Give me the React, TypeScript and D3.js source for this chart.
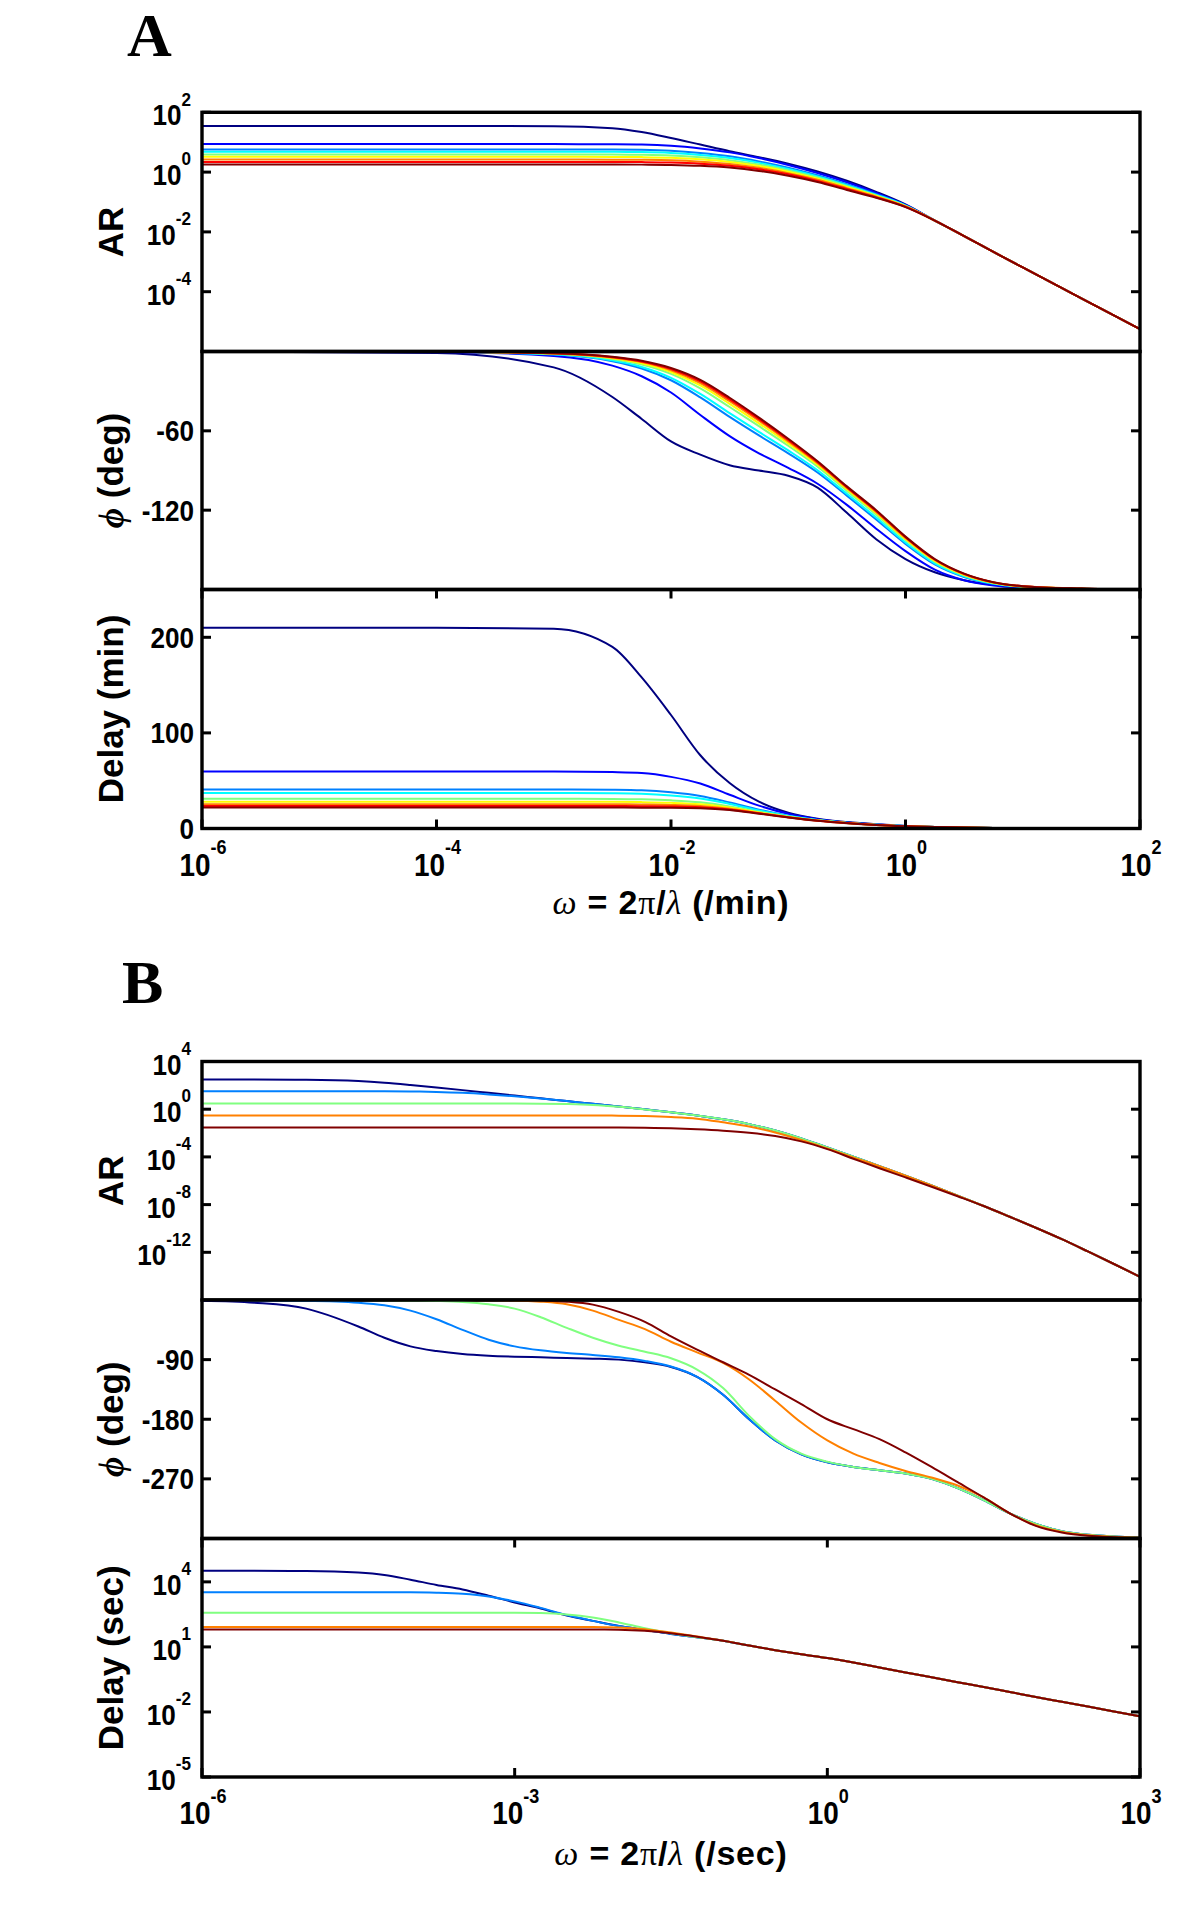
import React from "react";
import * as d3 from "d3";

// ================= DATA =================
// Panel A : frequency grid, exponent of omega (/min)
const A_OMEGA_EXP = [-6, -4, -3, -2.5, -2.25, -2, -1.75, -1.5, -1.25, -1, -0.75, -0.5, -0.25, 0, 0.25, 0.5, 0.75, 1, 1.5, 2];

// log10(AR), one row per curve (navy ... dark red)
const A_AR_LOG = [
  [1.54, 1.54, 1.535, 1.47, 1.34, 1.14, 0.92, 0.7, 0.5, 0.28, 0.02, -0.29, -0.66, -1.08, -1.62, -2.14, -2.67, -3.19, -4.22, -5.25],
  [0.936, 0.936, 0.936, 0.93, 0.92, 0.88, 0.79, 0.66, 0.47, 0.24, -0.03, -0.34, -0.7, -1.1, -1.62, -2.14, -2.67, -3.19, -4.22, -5.25],
  [0.758, 0.758, 0.758, 0.755, 0.746, 0.714, 0.639, 0.527, 0.358, 0.146, -0.108, -0.405, -0.74, -1.11, -1.62, -2.14, -2.67, -3.19, -4.22, -5.25],
  [0.68, 0.68, 0.68, 0.677, 0.669, 0.64, 0.573, 0.469, 0.309, 0.105, -0.143, -0.435, -0.76, -1.12, -1.62, -2.14, -2.67, -3.19, -4.22, -5.25],
  [0.59, 0.59, 0.59, 0.586, 0.578, 0.554, 0.494, 0.4, 0.251, 0.056, -0.183, -0.47, -0.78, -1.13, -1.62, -2.14, -2.67, -3.19, -4.22, -5.25],
  [0.51, 0.51, 0.51, 0.508, 0.501, 0.48, 0.428, 0.341, 0.201, 0.015, -0.218, -0.5, -0.8, -1.14, -1.62, -2.14, -2.67, -3.19, -4.22, -5.25],
  [0.42, 0.42, 0.42, 0.417, 0.411, 0.394, 0.349, 0.272, 0.143, -0.034, -0.258, -0.535, -0.82, -1.15, -1.62, -2.14, -2.67, -3.19, -4.22, -5.25],
  [0.34, 0.34, 0.34, 0.339, 0.334, 0.32, 0.283, 0.214, 0.094, -0.075, -0.293, -0.566, -0.84, -1.16, -1.62, -2.14, -2.67, -3.19, -4.22, -5.25],
  [0.255, 0.255, 0.255, 0.255, 0.25, 0.24, 0.21, 0.15, 0.04, -0.12, -0.33, -0.6, -0.86, -1.17, -1.62, -2.14, -2.67, -3.19, -4.22, -5.25],
];

// phase (deg)
const A_PHASE = [
  [0, -1.2, -12, -34.4, -51, -68, -78, -86, -90, -94, -103, -122, -142, -157, -167, -173, -176.5, -178.3, -179.5, -180],
  [0, -0.34, -3.4, -10.7, -18.7, -31, -48, -64, -77, -88, -100, -116, -134, -151, -165, -173, -177, -178.7, -179.7, -180],
  [0, -0.24, -2.33, -7.35, -12.85, -21.75, -34.75, -49.5, -63.5, -77, -91.5, -109, -127, -145.5, -161, -170.5, -175.75, -178.1, -179.5, -180],
  [0, -0.21, -2.12, -6.68, -11.7, -19.9, -32.1, -46.6, -60.8, -74.8, -89.8, -107.6, -125.6, -144.4, -160.2, -170, -175.5, -178, -179.5, -180],
  [0, -0.18, -1.77, -5.6, -9.8, -16.9, -27.9, -42, -56.5, -71.3, -87.1, -105.4, -123.4, -142.6, -158.9, -169.2, -175.1, -177.8, -179.4, -180],
  [0, -0.16, -1.6, -5.07, -8.9, -15.5, -25.7, -39.6, -54.3, -69.5, -85.7, -104.2, -122.2, -141.8, -158.3, -168.8, -174.9, -177.7, -179.4, -180],
  [0, -0.15, -1.45, -4.6, -8.05, -14.2, -23.9, -37.6, -52.4, -68, -84.5, -103.3, -121.3, -141, -157.7, -168.5, -174.7, -177.6, -179.3, -180],
  [0, -0.14, -1.35, -4.27, -7.5, -13.2, -22.6, -36.2, -51.1, -66.9, -83.7, -102.6, -120.6, -140.4, -157.3, -168.2, -174.6, -177.5, -179.3, -180],
  [0, -0.13, -1.26, -4, -7, -12.5, -21.5, -35, -50, -66, -83, -102, -120, -140, -157, -168, -174.5, -177.5, -179.3, -180],
];

// delay (min)
const A_DELAY = [
  [210, 210, 209, 190, 158, 118.7, 76.6, 47.5, 28, 16.4, 10.1, 6.7, 4.4, 2.74, 1.64, 0.95, 0.55, 0.31, 0.1, 0.03],
  [59.7, 59.7, 59.7, 59, 58, 54, 47, 35.3, 23.9, 15.4, 9.8, 6.4, 4.16, 2.64, 1.62, 0.95, 0.55, 0.31, 0.1, 0.03],
  [40.85, 40.85, 40.85, 40.5, 39.9, 37.85, 34.1, 27.3, 19.7, 13.45, 8.95, 6.0, 3.93, 2.54, 1.59, 0.94, 0.55, 0.31, 0.1, 0.03],
  [37.1, 37.1, 37.1, 36.8, 36.3, 34.6, 31.5, 25.7, 18.9, 13.1, 8.8, 5.9, 3.88, 2.52, 1.58, 0.94, 0.55, 0.31, 0.1, 0.03],
  [31.05, 31.05, 31.05, 30.88, 30.49, 29.45, 27.4, 23.14, 17.52, 12.44, 8.51, 5.79, 3.81, 2.49, 1.57, 0.93, 0.55, 0.31, 0.1, 0.03],
  [28.03, 28.03, 28.03, 27.92, 27.59, 26.87, 25.33, 21.86, 16.84, 12.12, 8.37, 5.73, 3.77, 2.47, 1.56, 0.93, 0.54, 0.31, 0.1, 0.03],
  [25.39, 25.39, 25.39, 25.33, 25.06, 24.61, 23.52, 20.74, 16.26, 11.85, 8.25, 5.67, 3.74, 2.46, 1.56, 0.93, 0.54, 0.31, 0.1, 0.03],
  [23.51, 23.51, 23.51, 23.48, 23.25, 22.99, 22.23, 19.94, 15.84, 11.66, 8.17, 5.63, 3.72, 2.45, 1.55, 0.93, 0.54, 0.31, 0.1, 0.03],
  [22, 22, 22, 22, 21.8, 21.7, 21.2, 19.3, 15.5, 11.5, 8.1, 5.6, 3.7, 2.44, 1.55, 0.93, 0.54, 0.31, 0.1, 0.03],
];

// Panel B : frequency grid, exponent of omega (/sec)
const B_OMEGA_EXP = [-6, -5.5, -5, -4.5, -4.25, -4, -3.75, -3.5, -3.25, -3, -2.75, -2.5, -2.25, -2, -1.75, -1.5, -1.25, -1, -0.75, -0.5, -0.25, 0, 0.25, 0.5, 0.75, 1, 1.25, 1.5, 1.75, 2, 2.25, 2.5, 2.75, 3];

const B_AR_LOG = [
  [2.49, 2.49, 2.47, 2.36, 2.22, 2.03, 1.82, 1.6, 1.37, 1.14, 0.91, 0.68, 0.45, 0.22, -0.01, -0.25, -0.52, -0.85, -1.25, -1.78, -2.45, -3.2, -3.98, -4.78, -5.58, -6.4, -7.25, -8.12, -9.02, -9.94, -10.9, -11.93, -12.98, -14.05],
  [1.51, 1.51, 1.51, 1.51, 1.51, 1.49, 1.45, 1.37, 1.24, 1.08, 0.89, 0.68, 0.45, 0.22, -0.01, -0.25, -0.52, -0.85, -1.25, -1.78, -2.45, -3.2, -3.98, -4.78, -5.58, -6.4, -7.25, -8.12, -9.02, -9.94, -10.9, -11.93, -12.98, -14.05],
  [0.48, 0.48, 0.48, 0.48, 0.48, 0.48, 0.48, 0.48, 0.48, 0.475, 0.46, 0.43, 0.36, 0.2, -0.02, -0.26, -0.52, -0.85, -1.25, -1.78, -2.45, -3.2, -3.98, -4.78, -5.58, -6.4, -7.25, -8.12, -9.02, -9.94, -10.9, -11.93, -12.98, -14.05],
  [-0.53, -0.53, -0.53, -0.53, -0.53, -0.53, -0.53, -0.53, -0.53, -0.53, -0.53, -0.53, -0.53, -0.54, -0.58, -0.66, -0.8, -1.1, -1.45, -1.95, -2.58, -3.3, -4.05, -4.78, -5.58, -6.4, -7.25, -8.12, -9.02, -9.94, -10.9, -11.93, -12.98, -14.05],
  [-1.54, -1.54, -1.54, -1.54, -1.54, -1.54, -1.54, -1.54, -1.54, -1.54, -1.54, -1.54, -1.54, -1.54, -1.56, -1.6, -1.68, -1.8, -1.98, -2.25, -2.7, -3.35, -4.15, -4.95, -5.72, -6.5, -7.3, -8.12, -9.02, -9.94, -10.9, -11.93, -12.98, -14.05],
];

const B_PHASE = [
  [-1, -4, -13, -40, -57, -70, -77, -81.5, -84, -85.5, -86.5, -87.5, -88.5, -90, -94, -101, -116, -143, -180, -212, -233, -245, -252, -257, -262, -270, -284, -302, -322, -338, -349, -354.5, -357, -358.5],
  [0, -0.3, -1, -4, -8, -16, -29, -45, -60, -70, -76, -80, -83, -86.5, -92, -100.5, -116, -143, -180, -212, -233, -245, -252, -257, -262, -270, -284, -302, -322, -338, -349, -354.5, -357, -358.5],
  [0, 0, 0, 0, -0.3, -0.7, -1.5, -3, -6.5, -13, -26, -42, -57, -69, -78, -88, -105, -133, -175, -210, -232, -244, -252, -257, -262, -270, -284, -302, -322, -338, -349, -354.5, -357, -358.5],
  [0, 0, 0, 0, 0, 0, 0, 0, -0.3, -0.7, -2.5, -6.5, -16, -30, -44, -63, -79, -95, -120, -152, -185, -212, -232, -246, -258, -268, -280, -298, -322, -340, -350, -355, -357.5, -359],
  [0, 0, 0, 0, 0, 0, 0, 0, 0, 0, -0.8, -2.5, -7, -18, -33, -55, -75, -94, -113, -135, -157, -180, -195, -210, -230, -252, -275, -298, -322, -341, -351, -356, -358, -359],
];

// log10(delay in sec)
const B_DELAY_LOG = [
  [4.51, 4.51, 4.5, 4.43, 4.32, 4.1, 3.86, 3.65, 3.36, 3.05, 2.77, 2.45, 2.2, 1.96, 1.78, 1.6, 1.45, 1.28, 1.06, 0.85, 0.66, 0.49, 0.28, 0.05, -0.18, -0.4, -0.63, -0.85, -1.08, -1.31, -1.53, -1.75, -1.98, -2.2],
  [3.52, 3.52, 3.52, 3.52, 3.52, 3.52, 3.5, 3.45, 3.33, 3.1, 2.8, 2.47, 2.2, 1.96, 1.78, 1.6, 1.45, 1.28, 1.06, 0.85, 0.66, 0.49, 0.28, 0.05, -0.18, -0.4, -0.63, -0.85, -1.08, -1.31, -1.53, -1.75, -1.98, -2.2],
  [2.57, 2.57, 2.57, 2.57, 2.57, 2.57, 2.57, 2.57, 2.57, 2.57, 2.56, 2.5, 2.36, 2.13, 1.86, 1.63, 1.45, 1.28, 1.06, 0.85, 0.66, 0.49, 0.28, 0.05, -0.18, -0.4, -0.63, -0.85, -1.08, -1.31, -1.53, -1.75, -1.98, -2.2],
  [1.92, 1.92, 1.92, 1.92, 1.92, 1.92, 1.92, 1.92, 1.92, 1.92, 1.92, 1.92, 1.92, 1.9, 1.82, 1.66, 1.48, 1.29, 1.06, 0.85, 0.66, 0.49, 0.28, 0.05, -0.18, -0.4, -0.63, -0.85, -1.08, -1.31, -1.53, -1.75, -1.98, -2.2],
  [1.8, 1.8, 1.8, 1.8, 1.8, 1.8, 1.8, 1.8, 1.8, 1.8, 1.8, 1.8, 1.8, 1.79, 1.74, 1.63, 1.47, 1.28, 1.06, 0.85, 0.66, 0.49, 0.28, 0.05, -0.18, -0.4, -0.63, -0.85, -1.08, -1.31, -1.53, -1.75, -1.98, -2.2],
];

// tick values
const A_AR_TICKS = [2, 0, -2, -4];
const A_PHASE_TICKS = [-60, -120];
const A_DELAY_TICKS = [0, 100, 200];
const A_X_TICKS = [-6, -4, -2, 0, 2];
const B_AR_TICKS = [4, 0, -4, -8, -12];
const B_PHASE_TICKS = [-90, -180, -270];
const B_DELAY_TICKS = [4, 1, -2, -5];
const B_X_TICKS = [-6, -3, 0, 3];

// ================= LAYOUT =================
const W = 1200;
const H = 1908;
const X0 = 202;
const X1 = 1140;
const SANS = "'Liberation Sans', Arial, Helvetica, sans-serif";
const SERIF = "'Liberation Serif', 'Times New Roman', serif";
const TICK = 9;
const BOX_W = 3.4;
const SX = 0.9; // horizontal condensing of tick labels

const jet = (t: number) => {
  const c = (v: number) => Math.round(255 * Math.max(0, Math.min(1, v)));
  return `rgb(${c(1.5 - Math.abs(4 * t - 3))},${c(1.5 - Math.abs(4 * t - 2))},${c(1.5 - Math.abs(4 * t - 1))})`;
};

function Pow({ x, y, exp, anchor, fs, sfs }: { x: number; y: number; exp: number; anchor: string; fs: number; sfs: number }) {
  return (
    <g transform={`translate(${x},${y}) scale(${SX},1)`}>
      <text x={0} y={0} textAnchor={anchor} fontFamily={SANS} fontWeight="bold" fontSize={fs}>
        <tspan>10</tspan>
        <tspan dy={-0.68 * fs} fontSize={sfs}>{String(exp)}</tspan>
      </text>
    </g>
  );
}

function Num({ x, y, v, fs }: { x: number; y: number; v: number; fs: number }) {
  return (
    <g transform={`translate(${x},${y}) scale(${SX},1)`}>
      <text x={0} y={0} textAnchor="end" fontFamily={SANS} fontWeight="bold" fontSize={fs}>{String(v)}</text>
    </g>
  );
}

type PanelProps = {
  id: string;
  top: number;
  bottom: number;
  x: d3.ScaleLogarithmic<number, number>;
  y: (v: number) => number;
  wExp: number[];
  rows: number[][];
  toValue: (v: number) => number;
  yTicks: number[];
  yTickPos: (t: number) => number;
  yLabel: (t: number, py: number) => React.ReactNode;
  xTickExps?: number[];
};

function Panel(p: PanelProps) {
  const n = p.rows.length;
  const line = (row: number[]) =>
    d3
      .line<number>()
      .x((_, i) => p.x(Math.pow(10, p.wExp[i])))
      .y((v) => p.y(p.toValue(v)))
      .curve(d3.curveMonotoneX)(row) || "";
  return (
    <g>
      <defs>
        <clipPath id={p.id}>
          <rect x={X0} y={p.top} width={X1 - X0} height={p.bottom - p.top} />
        </clipPath>
      </defs>
      <g clipPath={`url(#${p.id})`}>
        {p.rows.map((row, i) => (
          <path key={i} d={line(row)} fill="none" stroke={jet(n === 1 ? 0 : i / (n - 1))} strokeWidth={2} />
        ))}
      </g>
      <rect x={X0} y={p.top} width={X1 - X0} height={p.bottom - p.top} fill="none" stroke="#000" strokeWidth={BOX_W} />
      {p.yTicks.map((t) => {
        const py = p.yTickPos(t);
        return (
          <g key={t}>
            <line x1={X0} x2={X0 + TICK} y1={py} y2={py} stroke="#000" strokeWidth={3} />
            <line x1={X1} x2={X1 - TICK} y1={py} y2={py} stroke="#000" strokeWidth={3} />
            {p.yLabel(t, py)}
          </g>
        );
      })}
      {(p.xTickExps || []).map((e) => {
        const px = p.x(Math.pow(10, e));
        return (
          <g key={e}>
            <line x1={px} x2={px} y1={p.top} y2={p.top + TICK} stroke="#000" strokeWidth={3} />
            <line x1={px} x2={px} y1={p.bottom} y2={p.bottom - TICK} stroke="#000" strokeWidth={3} />
          </g>
        );
      })}
    </g>
  );
}

function YTitle({ x, y, children }: { x: number; y: number; children: React.ReactNode }) {
  return (
    <text transform={`translate(${x},${y}) rotate(-90)`} textAnchor="middle" fontFamily={SANS} fontWeight="bold" fontSize={35} style={{ whiteSpace: "pre" }}>
      {children}
    </text>
  );
}

function XTitle({ x, y, unit }: { x: number; y: number; unit: string }) {
  return (
    <text x={x} y={y} textAnchor="middle" fontFamily={SANS} fontWeight="bold" fontSize={34} letterSpacing={0.8} style={{ whiteSpace: "pre" }}>
      <tspan fontFamily={SERIF} fontStyle="italic" fontWeight="normal">ω</tspan>
      <tspan>{" = 2"}</tspan>
      <tspan fontFamily={SERIF} fontWeight="normal">π</tspan>
      <tspan>/</tspan>
      <tspan fontFamily={SERIF} fontStyle="italic" fontWeight="normal">λ</tspan>
      <tspan>{` (/${unit})`}</tspan>
    </text>
  );
}

function Figure({
  letter, letterX, letterY, xMinExp, xMaxExp, xTicks, unit, titleY,
  wExp, arRows, arDomain, arTicks, phRows, phDomain, phTicks, dlRows, dlLog, dlDomain, dlTicks,
  bounds,
}: any) {
  const x = d3.scaleLog().domain([Math.pow(10, xMinExp), Math.pow(10, xMaxExp)]).range([X0, X1]);
  const [t0, t1, t2, t3] = bounds as number[];
  const yAr = d3.scaleLog().domain([Math.pow(10, arDomain[0]), Math.pow(10, arDomain[1])]).range([t1, t0]);
  const yPh = d3.scaleLinear().domain(phDomain).range([t2, t1]);
  const yDl = dlLog
    ? d3.scaleLog().domain([Math.pow(10, dlDomain[0]), Math.pow(10, dlDomain[1])]).range([t3, t2])
    : d3.scaleLinear().domain(dlDomain).range([t3, t2]);
  const powLabel = (e: number, py: number) => <Pow x={191} y={py + 13} exp={e} anchor="end" fs={29} sfs={19} />;
  const numLabel = (v: number, py: number) => <Num x={194} y={py + 10.5} v={v} fs={29} />;
  const ident = (v: number) => v;
  const p10 = (v: number) => Math.pow(10, v);
  return (
    <g>
      <text x={letterX} y={letterY} fontFamily={SERIF} fontWeight="bold" fontSize={62}>{letter}</text>
      <Panel id={`${letter}-ar`} top={t0} bottom={t1} x={x} y={yAr} wExp={wExp} rows={arRows} toValue={p10}
        yTicks={arTicks} yTickPos={(e) => yAr(Math.pow(10, e))} yLabel={powLabel} />
      <Panel id={`${letter}-ph`} top={t1} bottom={t2} x={x} y={yPh} wExp={wExp} rows={phRows} toValue={ident}
        yTicks={phTicks} yTickPos={(v) => yPh(v)} yLabel={numLabel} />
      <Panel id={`${letter}-dl`} top={t2} bottom={t3} x={x} y={yDl as any} wExp={wExp} rows={dlRows} toValue={dlLog ? p10 : ident}
        yTicks={dlTicks} yTickPos={(v) => (dlLog ? (yDl as any)(Math.pow(10, v)) : (yDl as any)(v))}
        yLabel={dlLog ? powLabel : numLabel} xTickExps={xTicks} />
      {xTicks.map((e: number) => (
        <Pow key={e} x={x(Math.pow(10, e)) + 1} y={t3 + 47} exp={e} anchor="middle" fs={31} sfs={20} />
      ))}
      <YTitle x={123} y={(t0 + t1) / 2}>AR</YTitle>
      <YTitle x={123} y={(t1 + t2) / 2}>
        <tspan fontFamily={SERIF} fontStyle="italic">ϕ</tspan>
        <tspan>{" (deg)"}</tspan>
      </YTitle>
      <YTitle x={123} y={(t2 + t3) / 2}>{`Delay (${unit})`}</YTitle>
      <XTitle x={671} y={titleY} unit={unit} />
    </g>
  );
}

export default function App() {
  return (
    <svg width={W} height={H} viewBox={`0 0 ${W} ${H}`} style={{ position: "absolute", left: 0, top: 0, background: "#fff" }}>
      <rect x={0} y={0} width={W} height={H} fill="#fff" />
      <Figure
        letter="A" letterX={127} letterY={56}
        xMinExp={-6} xMaxExp={2} xTicks={A_X_TICKS} unit="min" titleY={914}
        wExp={A_OMEGA_EXP}
        arRows={A_AR_LOG} arDomain={[-6, 2]} arTicks={A_AR_TICKS}
        phRows={A_PHASE} phDomain={[-180, 0]} phTicks={A_PHASE_TICKS}
        dlRows={A_DELAY} dlLog={false} dlDomain={[0, 250]} dlTicks={A_DELAY_TICKS}
        bounds={[112.3, 351.5, 589.5, 828.5]}
      />
      <Figure
        letter="B" letterX={122} letterY={1003}
        xMinExp={-6} xMaxExp={3} xTicks={B_X_TICKS} unit="sec" titleY={1865}
        wExp={B_OMEGA_EXP}
        arRows={B_AR_LOG} arDomain={[-16, 4]} arTicks={B_AR_TICKS}
        phRows={B_PHASE} phDomain={[-360, 0]} phTicks={B_PHASE_TICKS}
        dlRows={B_DELAY_LOG} dlLog={true} dlDomain={[-5, 6]} dlTicks={B_DELAY_TICKS}
        bounds={[1061.5, 1300, 1538.5, 1777]}
      />
    </svg>
  );
}
